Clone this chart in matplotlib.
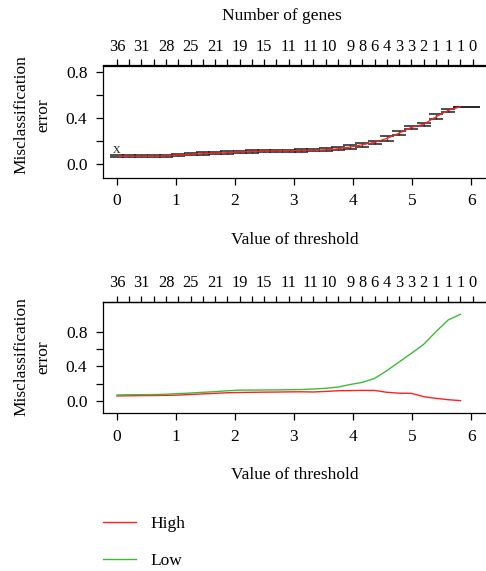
import matplotlib
matplotlib.use("Agg")
import matplotlib.pyplot as plt
from matplotlib.lines import Line2D

plt.rcParams['font.family'] = ['Liberation Serif', 'DejaVu Serif']

# ---------------- data ----------------
thresholds = [0.000, 0.208, 0.416, 0.624, 0.832, 1.040, 1.248, 1.455, 1.663, 1.871,
              2.079, 2.287, 2.495, 2.703, 2.911, 3.119, 3.327, 3.534, 3.742, 3.950,
              4.158, 4.366, 4.574, 4.782, 4.990, 5.198, 5.406, 5.613, 5.821, 6.029]
n_genes = [36, 33, 31, 29, 28, 26, 25, 23, 21, 20, 19, 17, 15, 13, 11, 11, 11, 10, 9, 9,
           8, 6, 4, 3, 3, 2, 1, 1, 1, 0]
shown_gene_labels = [0, 2, 4, 6, 8, 10, 12, 14, 16, 17, 19, 20, 21, 22, 23, 24, 25, 26, 27, 28, 29]

overall_error = [0.065, 0.065, 0.065, 0.065, 0.068, 0.075, 0.082, 0.088, 0.092, 0.097,
                 0.102, 0.106, 0.110, 0.112, 0.113, 0.115, 0.117, 0.122, 0.130, 0.145,
                 0.165, 0.186, 0.220, 0.266, 0.316, 0.343, 0.408, 0.464, 0.496, 0.496]
overall_se = [0.010, 0.010, 0.010, 0.010, 0.010, 0.010, 0.010, 0.010, 0.010, 0.010,
              0.010, 0.010, 0.010, 0.010, 0.010, 0.010, 0.010, 0.011, 0.012, 0.018,
              0.019, 0.015, 0.020, 0.016, 0.014, 0.014, 0.022, 0.012, 0.000, 0.000]

class_thresholds = thresholds[:29]
high_error = [0.058, 0.060, 0.062, 0.063, 0.065, 0.068, 0.075, 0.082, 0.088, 0.095,
              0.098, 0.100, 0.102, 0.103, 0.105, 0.106, 0.104, 0.110, 0.118, 0.120,
              0.122, 0.122, 0.100, 0.090, 0.088, 0.050, 0.030, 0.015, 0.004]
low_error = [0.070, 0.072, 0.073, 0.074, 0.078, 0.085, 0.092, 0.100, 0.108, 0.118,
             0.125, 0.126, 0.127, 0.128, 0.130, 0.132, 0.138, 0.146, 0.160, 0.190,
             0.215, 0.260, 0.350, 0.450, 0.550, 0.654, 0.800, 0.935, 1.000]

class_names = ["High", "Low"]
class_colors = ["#ff2020", "#3cbb3c"]

x_ticks = [0, 1, 2, 3, 4, 5, 6]
y_ticks = [0.0, 0.2, 0.4, 0.6, 0.8]
y_ticklabels = ["0.0", "", "0.4", "", "0.8"]

FS = 12.5
FS_TOP = 11.8
W, H = 486, 571

fig = plt.figure(figsize=(W / 100, H / 100), dpi=100)


def make_axes(top_px, bottom_px, ylim):
    left_px, right_px = 102.7, 487.0
    ax = fig.add_axes([left_px / W, 1 - bottom_px / H, (right_px - left_px) / W,
                       (bottom_px - top_px) / H])
    ax.set_xlim(-0.241, 6.270)
    ax.set_ylim(*ylim)
    ax.spines['right'].set_visible(False)
    for s in ['left', 'bottom', 'top']:
        ax.spines[s].set_linewidth(0.9)
    ax.set_xticks(x_ticks)
    ax.set_xticklabels([str(v) for v in x_ticks])
    ax.set_yticks(y_ticks)
    ax.set_yticklabels(y_ticklabels)
    ax.tick_params(axis='both', direction='out', length=5, width=0.9,
                   labelsize=FS, pad=6)
    ax.set_xlabel("Value of threshold", fontsize=FS, labelpad=16)
    sec = ax.secondary_xaxis('top')
    sec.set_xticks(thresholds)
    sec.set_xticklabels([])
    sec.tick_params(direction='out', length=4.3, width=0.9)
    sec.spines['top'].set_linewidth(0.9)
    # gene-count labels above the top ticks (nudged apart where they would touch)
    nudge = {16: -2.2, 17: 2.2}
    for i in shown_gene_labels:
        ax.annotate(str(n_genes[i]), xy=(thresholds[i], 1.0),
                    xycoords=('data', 'axes fraction'),
                    xytext=(nudge.get(i, 0.0), 7.5), textcoords='offset points',
                    ha='center', va='bottom', fontsize=FS_TOP, annotation_clip=False)
    return ax


# ---------------- top panel ----------------
ax1 = make_axes(65.5, 178.0, (-0.124, 0.854))
ax1.errorbar(thresholds, overall_error, yerr=overall_se, fmt='none',
             ecolor='#222222', elinewidth=0.9, capsize=5.2, capthick=1.4, alpha=0.8)
ax1.plot(thresholds[:29], overall_error[:29], color='#ff2020', lw=0.9, zorder=3)
ax1.text(thresholds[0], overall_error[0] + 0.004, 'x', ha='center', va='bottom',
         fontsize=11, color='#333333')
fig.text(282 / W, 1 - 16 / H, "Number of genes", ha='center', va='center', fontsize=FS)
fig.text(32 / W, 1 - 115 / H, "Misclassification\nerror", ha='center', va='center',
         rotation=90, fontsize=FS, linespacing=1.5)

# ---------------- bottom panel ----------------
ax2 = make_axes(301.7, 413.3, (-0.142, 1.145))
ax2.plot(class_thresholds, high_error, color=class_colors[0], lw=1.0)
ax2.plot(class_thresholds, low_error, color=class_colors[1], lw=1.0)
fig.text(32 / W, 1 - 357 / H, "Misclassification\nerror", ha='center', va='center',
         rotation=90, fontsize=FS, linespacing=1.5)

handles = [Line2D([0], [0], color=c, lw=1.0) for c in class_colors]
fig.legend(handles, class_names, loc='upper left',
           bbox_to_anchor=(87 / W, 1 - 500 / H), frameon=False, fontsize=FS,
           handlelength=1.95, handletextpad=0.8, labelspacing=1.21)

fig.savefig("out.png", dpi=100)
